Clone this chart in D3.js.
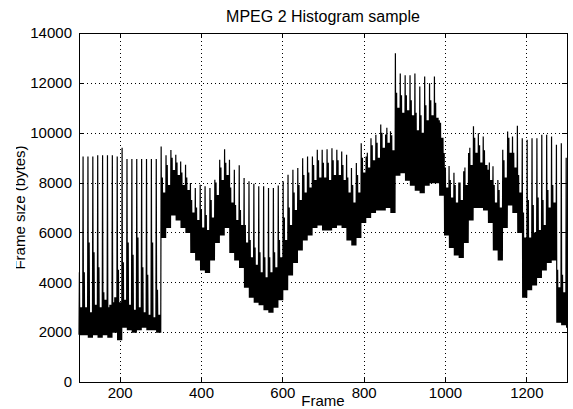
<!DOCTYPE html>
<html>
<head>
<meta charset="utf-8">
<script src="https://cdn.jsdelivr.net/npm/d3@7/dist/d3.min.js"></script>
<style>
html,body{margin:0;padding:0;background:#fff;}
svg{display:block;}
text{font-family:"Liberation Sans",Arial,Helvetica,sans-serif;fill:#000;}
</style>
</head>
<body>
<script>
// ---- data, one entry per GOP of 12 frames ----
const titleText = "MPEG 2 Histogram sample";
const xLabel = "Frame";
const yLabel = "Frame size (bytes)";
const xTicks = [200, 400, 600, 800, 1000, 1200];
const yTicks = [0, 2000, 4000, 6000, 8000, 10000, 12000, 14000];
const frameRange = [100, 1300];
const firstIFrame = 110;
const gopPattern = ["I","B","B","P","B","B","P","B","B","P","B","B"];

// I-frame sizes (the tall spikes)
const iFrameSize = [
  9050, 9050, 9050, 9100, 9100, 9100, 9100, 9050, 9400, 8950,
  8950, 8950, 8950, 8950, 8950, 8950, 9450, 9100, 9310, 9120,
  8850, 8710, 7980, 7780, 7910, 7850, 7780, 8110, 8920, 9340,
  8920, 8510, 8690, 8180, 8050, 7950, 7850, 7850, 7780, 7780,
  7880, 8050, 8310, 8510, 8580, 8980, 9050, 9050, 9320, 9320,
  9340, 9380, 9320, 9250, 9120, 8580, 8780, 9580, 9050, 9780,
  9920, 10330, 9930, 10060, 13190, 12380, 12310, 12310, 12380, 11850,
  12250, 11980, 12250, 10500, 9190, 8660, 8390, 8000, 8450, 9190,
  10260, 9980, 9850, 8510, 8650, 8100, 9320, 10050, 9850, 10280,
  9780, 9720, 9780, 9780, 9920, 9920, 9850, 9520, 9580, 9000
];
// largest P-frame in each GOP
const pFramePeak = [
  4400, 5600, 5200, 4600, 3600, 3000, 3200, 4500, 4800, 5600,
  5100, 5800, 4600, 4300, 5600, 3700, 8200, 8700, 9000, 8800,
  8400, 8200, 7300, 7000, 6900, 6700, 7300, 8000, 8600, 8800,
  7800, 7100, 6900, 6300, 5700, 5400, 5200, 5000, 5000, 5200,
  5700, 6600, 7000, 7600, 7900, 8300, 8400, 8700, 8900, 8800,
  8800, 8900, 8900, 8700, 8200, 7900, 8300, 9000, 9200, 9500,
  9600, 10000, 10200, 9900, 11600, 11500, 11500, 11300, 10800, 10700,
  11100, 11300, 11200, 10400, 8600, 8100, 7900, 8000, 8600, 9400,
  9800, 9500, 9300, 8800, 7900, 7700, 8900, 9800, 9200, 8300,
  6800, 7300, 7100, 7400, 7300, 7700, 7900, 4500, 4300, 4100
];
// other P-frames (top of the dense band)
const pFrameSize = [
  3000, 2800, 3100, 3000, 3300, 3100, 3400, 3200, 3300, 3100,
  2900, 3000, 2800, 2700, 2600, 2700, 7600, 7900, 8500, 8300,
  7900, 7700, 6800, 6500, 6200, 6100, 6600, 7500, 8100, 8300,
  7200, 6500, 6300, 5600, 5000, 4700, 4400, 4200, 4400, 4600,
  5000, 5700, 6300, 6900, 7300, 7600, 7800, 8100, 8200, 8200,
  8100, 8300, 8300, 8100, 7600, 7200, 7600, 8400, 8600, 8900,
  9000, 9400, 9600, 9300, 11000, 10800, 10900, 10700, 10100, 10000,
  10500, 10700, 10600, 9800, 7800, 7400, 7200, 7300, 7900, 8700,
  9200, 8800, 8700, 8100, 7200, 7000, 8200, 9200, 8600, 7600,
  5800, 5800, 6000, 6100, 6300, 7000, 7200, 3800, 3600, 3500
];
// B-frames (bottom of the dense band)
const bFrameSize = [
  1900, 1800, 1900, 1800, 1900, 1800, 2000, 1700, 2200, 2100,
  2000, 2100, 2200, 2100, 2100, 2000, 5800, 6200, 6700, 6500,
  6200, 6000, 5200, 4900, 4500, 4400, 4900, 5600, 5900, 6200,
  5200, 4900, 4600, 3800, 3400, 3200, 3100, 2900, 2800, 3000,
  3300, 3700, 4300, 4800, 5300, 5700, 5900, 6200, 6300, 6100,
  6100, 6200, 6300, 6200, 5700, 5500, 5800, 6400, 6600, 6800,
  6900, 6900, 7000, 6800, 8300, 8400, 8100, 7900, 7700, 7600,
  7900, 8000, 8000, 7500, 5900, 5400, 5100, 5000, 5600, 6500,
  7000, 7000, 6900, 6400, 5300, 4900, 6200, 7100, 6800, 6000,
  3400, 3700, 3900, 4200, 4500, 4800, 4900, 2400, 2300, 2200
];

// ---- build the frame sequence from the GOP table ----
const nG = iFrameSize.length;
const frames = [];
for (let f = frameRange[0]; f <= frameRange[1]; f++) {
  const k = f - firstIFrame;
  const g = Math.max(0, Math.min(nG - 1, Math.floor(k / gopPattern.length)));
  const pos = ((k % gopPattern.length) + gopPattern.length) % gopPattern.length;
  const t = gopPattern[pos];
  let v;
  if (t === "I") v = iFrameSize[g];
  else if (t === "P") v = (pos === 3) ? pFramePeak[g] : pFrameSize[g];
  else v = bFrameSize[g];
  frames.push({frame: f, size: v});
}

// ---- layout ----
const W = 573, H = 409;
const L = 79, R = 567, T = 33, B = 382;
const FS = 15;
const FF = '"Liberation Sans",Arial,Helvetica,sans-serif';

const svg = d3.select("body").append("svg").attr("width", W).attr("height", H);
svg.append("rect").attr("width", W).attr("height", H).attr("fill", "#fff");

const x = d3.scaleLinear().domain(frameRange).range([L, R]);
const y = d3.scaleLinear().domain([0, 14000]).range([B, T]);

// grid
const grid = svg.append("g").attr("stroke", "#000").attr("stroke-width", 1)
  .attr("stroke-dasharray", "1,3").attr("shape-rendering", "crispEdges");
xTicks.forEach(t => grid.append("line")
  .attr("x1", Math.round(x(t)) + 0.5).attr("x2", Math.round(x(t)) + 0.5)
  .attr("y1", T).attr("y2", B));
yTicks.filter(t => t > 0 && t < 14000).forEach(t => grid.append("line")
  .attr("y1", Math.round(y(t)) + 0.5).attr("y2", Math.round(y(t)) + 0.5)
  .attr("x1", L).attr("x2", R));

// data line
svg.append("path").datum(frames)
  .attr("fill", "none").attr("stroke", "#000").attr("stroke-width", 1.2)
  .attr("stroke-linejoin", "miter")
  .attr("d", d3.line().x(d => x(d.frame)).y(d => y(d.size)));

// axes (matlab-like box with inward ticks on all four sides)
const tl = 5;
const fmt = d3.format("d");
const axB = svg.append("g").attr("transform", `translate(0,${B})`)
  .call(d3.axisBottom(x).tickValues(xTicks).tickSizeInner(-tl).tickSizeOuter(0).tickPadding(5).tickFormat(fmt));
const axT = svg.append("g").attr("transform", `translate(0,${T})`)
  .call(d3.axisTop(x).tickValues(xTicks).tickSizeInner(-tl).tickSizeOuter(0).tickFormat(""));
const axL = svg.append("g").attr("transform", `translate(${L},0)`)
  .call(d3.axisLeft(y).tickValues(yTicks).tickSizeInner(-tl).tickSizeOuter(0).tickPadding(7).tickFormat(fmt));
const axR = svg.append("g").attr("transform", `translate(${R},0)`)
  .call(d3.axisRight(y).tickValues(yTicks).tickSizeInner(-tl).tickSizeOuter(0).tickFormat(""));
[axB, axT, axL, axR].forEach(a => {
  a.selectAll("path").attr("stroke", "#000").attr("shape-rendering", "crispEdges");
  a.selectAll("line").attr("stroke", "#000").attr("shape-rendering", "crispEdges");
  a.selectAll("text").attr("font-size", FS).attr("font-family", FF).attr("fill", "#000");
});

// titles
svg.append("text").attr("x", (L + R) / 2).attr("y", 22).attr("text-anchor", "middle")
  .attr("font-size", 16).attr("font-family", FF).text(titleText);
svg.append("text").attr("x", (L + R) / 2).attr("y", 406).attr("text-anchor", "middle")
  .attr("font-size", FS).attr("font-family", FF).text(xLabel);

svg.append("clipPath").attr("id", "ylclip").append("rect")
  .attr("x", 16).attr("y", 0).attr("width", W).attr("height", H);
svg.append("g").attr("clip-path", "url(#ylclip)")
  .append("text").attr("transform", `translate(25,${(T + B) / 2}) rotate(-90)`)
  .attr("text-anchor", "middle").attr("font-size", FS).attr("font-family", FF).text(yLabel);
</script>
</body>
</html>
